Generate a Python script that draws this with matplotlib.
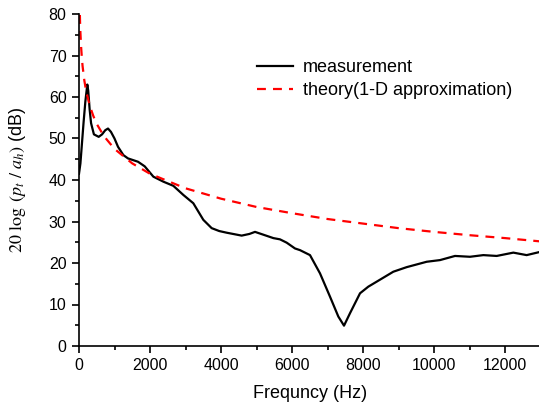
import matplotlib
matplotlib.use("Agg")
import matplotlib.pyplot as plt
from matplotlib.ticker import MultipleLocator

plt.rcParams['font.family'] = ['Liberation Sans', 'DejaVu Sans']
plt.rcParams['mathtext.fontset'] = 'stix'

meas_f = [0, 40, 85, 130, 180, 234, 260, 300, 340, 420, 555, 650, 740, 817, 900, 1000, 1099,
          1250, 1380, 1662, 1850, 2095, 2376, 2657, 2939, 3220, 3502, 3737, 3950, 4160, 4582,
          4800, 4958, 5200, 5475, 5662, 5850, 6085, 6225, 6507, 6789, 7070, 7305, 7465,
          7634, 7916, 8150, 8385, 8854, 9230, 9794, 10169, 10592, 11014, 11390, 11766,
          12235, 12610, 13000]
meas_v = [41.5, 44.0, 49.0, 54.0, 59.0, 63.0, 61.5, 57.0, 53.7, 51.0, 50.4, 51.0, 52.0, 52.4, 51.6, 50.0, 48.0,
          46.0, 45.2, 44.4, 43.3, 40.8, 39.6, 38.6, 36.4, 34.4, 30.4, 28.4, 27.7, 27.3, 26.6,
          27.0, 27.5, 26.8, 26.0, 25.7, 24.9, 23.5, 23.1, 21.9, 17.5, 11.9, 7.1, 4.9,
          7.9, 12.7, 14.3, 15.5, 17.9, 19.0, 20.3, 20.7, 21.7, 21.5, 21.9, 21.7,
          22.5, 21.9, 22.7]

theo_f = [15, 20, 30, 40, 60, 80, 100, 150, 200, 300, 400, 500, 700, 1000, 1500, 2000,
          3000, 4000, 5000, 6000, 7000, 8000, 9000, 10000, 11000, 12000, 13000]
theo_v = [84.0, 81.5, 78.0, 75.5, 72.0, 69.5, 67.5, 64.0, 61.5, 58.0, 55.5, 53.5, 50.6, 47.5, 44.0, 41.5,
          38.0, 35.5, 33.5, 32.0, 30.6, 29.5, 28.4, 27.5, 26.7, 26.0, 25.2]

fig = plt.figure(figsize=(5.39, 4.03), dpi=100)
ax = fig.add_axes([79/539, 1-346/403, (540.5-79)/539, (346-14)/403])

ax.plot(meas_f, meas_v, color='black', lw=1.6, label='measurement')
ax.plot(theo_f, theo_v, color='red', lw=1.6, dashes=(4.0, 3.2), label='theory(1-D approximation)')

ax.set_xlim(0, 13000)
ax.set_ylim(0, 80)
ax.xaxis.set_major_locator(MultipleLocator(2000))
ax.xaxis.set_minor_locator(MultipleLocator(1000))
ax.yaxis.set_major_locator(MultipleLocator(10))
ax.yaxis.set_minor_locator(MultipleLocator(5))
ax.spines['top'].set_visible(False)
ax.spines['right'].set_visible(False)
for s in ('left', 'bottom'):
    ax.spines[s].set_linewidth(1.2)
ax.tick_params(which='major', direction='out', length=5, width=1.2, labelsize=11.5, pad=4)
ax.tick_params(which='minor', direction='out', length=3, width=1.2)

ax.set_xlabel('Frequncy (Hz)', fontsize=13, labelpad=8)
ax.set_ylabel(r'$20\ \log\ (p_t\ /\ a_h)$ (dB)', fontsize=13)
ax.yaxis.set_label_coords(-0.110, 0.5)

ax.legend(loc='upper left', bbox_to_anchor=(0.385, 0.864), frameon=False, fontsize=13,
          handlelength=2.0, handletextpad=0.54, labelspacing=0.35, borderaxespad=0, borderpad=0)

fig.savefig('out.png', dpi=100)
